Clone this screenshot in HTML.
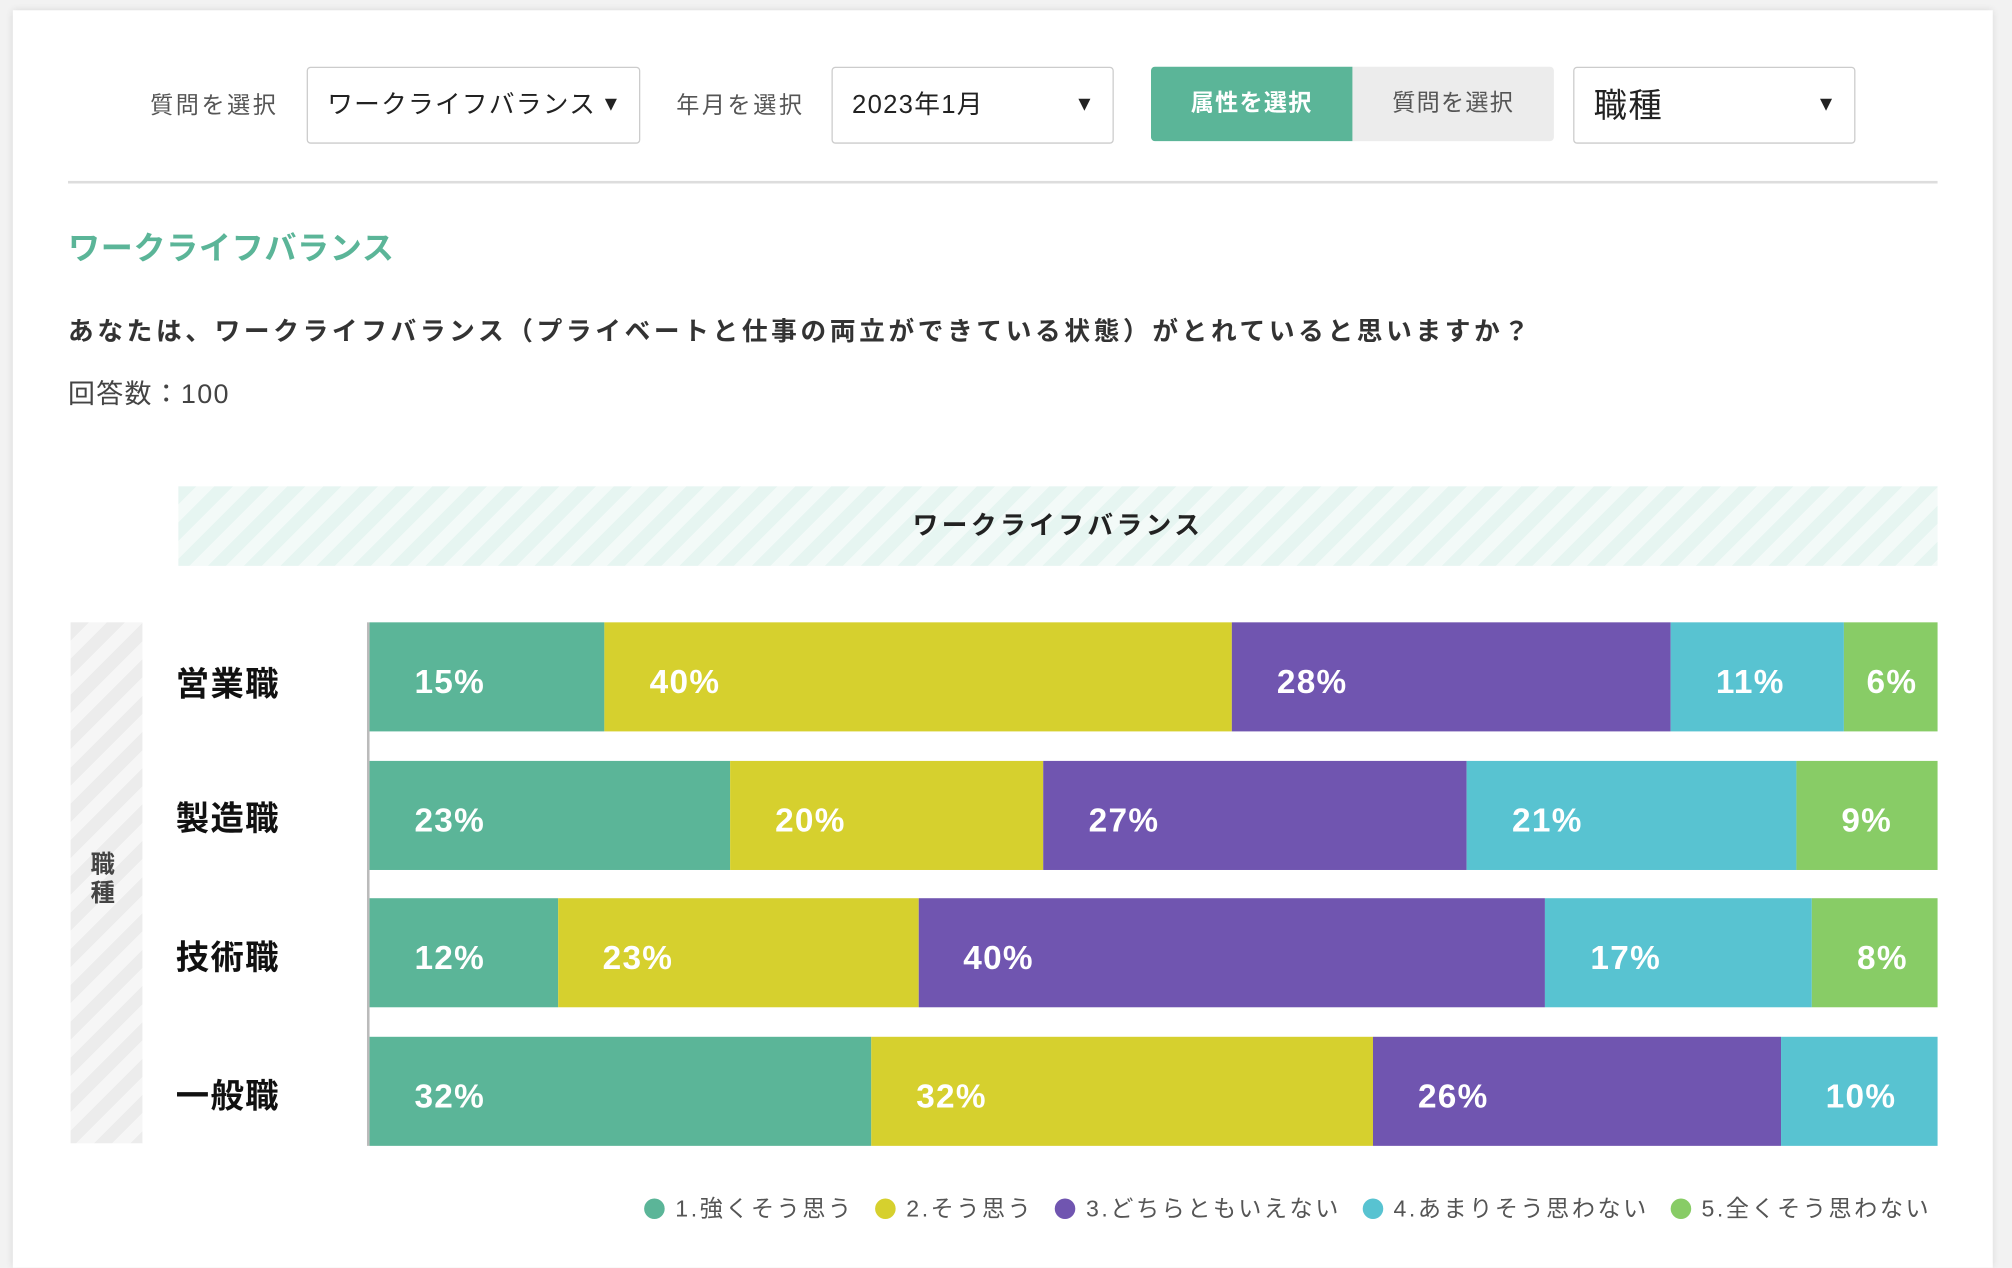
<!DOCTYPE html>
<html><head><meta charset="utf-8"><style>
html,body{margin:0;padding:0;background:#f2f2f2;width:2012px;height:1251px;overflow:hidden}
#s{position:absolute;left:0;top:0;width:1568px;height:975px;transform:scale(1.28316);transform-origin:0 0;font-family:"Liberation Sans","Noto Sans CJK JP",sans-serif;color:#333}
.card{position:absolute;left:10px;top:8px;width:1543px;height:980px;background:#fff;box-shadow:0 0 6px rgba(0,0,0,.12)}
.a{position:absolute;white-space:nowrap}
.sel{position:absolute;border:1px solid #ccc;border-radius:3px;background:#fff;box-sizing:border-box;height:60px;top:52px}
.sel span{position:absolute;left:15px;top:0;line-height:58px;font-size:20px;color:#222;letter-spacing:1px}
.sel i{position:absolute;right:14px;top:0;line-height:58px;font-size:16px;font-style:normal;color:#222}
.lab{font-size:18px;color:#555;top:68px;letter-spacing:2px}
.row{position:absolute;left:288px;width:1222px;height:85px;display:flex}
.row div{height:100%;color:#fff;font-weight:bold;font-size:26px;line-height:92px;padding-left:35px;box-sizing:border-box;overflow:hidden;white-space:nowrap;letter-spacing:1px}
.g{background:#5bb598}.y{background:#d6d02e}.p{background:#7055b0}.c{background:#58c3d1}.l{background:#88cc66}
.rl{position:absolute;left:137px;font-size:26px;font-weight:bold;color:#111;letter-spacing:1px}
.dot{display:inline-block;width:16px;height:16px;border-radius:50%;vertical-align:-2px;margin-right:8px;margin-left:17px}
</style></head><body><div id="s">
<div class="card"></div>
<div class="a lab" style="left:117px">質問を選択</div>
<div class="sel" style="left:239px;width:260px"><span>ワークライフバランス</span><i>▼</i></div>
<div class="a lab" style="left:527px">年月を選択</div>
<div class="sel" style="left:648px;width:220px"><span>2023年1月</span><i>▼</i></div>
<div class="a" style="left:897px;top:52px;width:157px;height:58px;background:#5bb598;border-radius:3px 0 0 3px;color:#fff;font-size:18px;font-weight:bold;text-align:center;line-height:56px;letter-spacing:1px">属性を選択</div>
<div class="a" style="left:1054px;top:52px;width:157px;height:58px;background:#ececec;border-radius:0 3px 3px 0;color:#555;font-size:18px;text-align:center;line-height:56px;letter-spacing:1px">質問を選択</div>
<div class="sel" style="left:1226px;width:220px"><span style="font-size:26px">職種</span><i>▼</i></div>
<div class="a" style="left:53px;top:141px;width:1457px;height:2px;background:#ddd"></div>
<div class="a" style="left:53px;top:174px;font-size:25px;font-weight:bold;color:#5bb598;letter-spacing:0.5px">ワークライフバランス</div>
<div class="a" style="left:53px;top:242px;font-size:20px;font-weight:bold;color:#333;letter-spacing:2.85px">あなたは、ワークライフバランス（プライベートと仕事の両立ができている状態）がとれていると思いますか？</div>
<div class="a" style="left:53px;top:291px;font-size:21px;color:#444;letter-spacing:1px">回答数：100</div>
<div class="a" style="left:139px;top:379px;width:1371px;height:62px;background:repeating-linear-gradient(135deg,#e6f5f1 0 10px,#f3faf8 10px 20px);text-align:center;line-height:62px;font-size:20px;font-weight:bold;color:#222;letter-spacing:2.7px">ワークライフバランス</div>
<div class="a" style="left:55px;top:485px;width:56px;height:406px;background:repeating-linear-gradient(135deg,#ececec 0 10px,#f6f6f6 10px 20px)"></div>
<div class="a" style="left:68px;top:664px;width:24px;font-size:19px;font-weight:bold;color:#444;line-height:22px;white-space:normal;text-align:center">職<br>種</div>
<div class="a" style="left:286px;top:485px;width:2px;height:408px;background:#bbb"></div>
<div class="rl" style="top:513px">営業職</div>
<div class="rl" style="top:618px">製造職</div>
<div class="rl" style="top:726px">技術職</div>
<div class="rl" style="top:834px">一般職</div>
<div class="row" style="top:485px"><div class="g" style="width:15%">15%</div><div class="y" style="width:40%">40%</div><div class="p" style="width:28%">28%</div><div class="c" style="width:11%">11%</div><div class="l" style="width:6%;padding-left:18px">6%</div></div>
<div class="row" style="top:593px"><div class="g" style="width:23%">23%</div><div class="y" style="width:20%">20%</div><div class="p" style="width:27%">27%</div><div class="c" style="width:21%">21%</div><div class="l" style="width:9%">9%</div></div>
<div class="row" style="top:700px"><div class="g" style="width:12%">12%</div><div class="y" style="width:23%">23%</div><div class="p" style="width:40%">40%</div><div class="c" style="width:17%">17%</div><div class="l" style="width:8%">8%</div></div>
<div class="row" style="top:808px"><div class="g" style="width:32%">32%</div><div class="y" style="width:32%">32%</div><div class="p" style="width:26%">26%</div><div class="c" style="width:10%">10%</div></div>
<div class="a" style="right:63px;top:928px;font-size:18px;color:#555;letter-spacing:2px"><span class="dot g"></span>1.強くそう思う<span class="dot y"></span>2.そう思う<span class="dot p"></span>3.どちらともいえない<span class="dot c"></span>4.あまりそう思わない<span class="dot l"></span>5.全くそう思わない</div>
</div></body></html>
